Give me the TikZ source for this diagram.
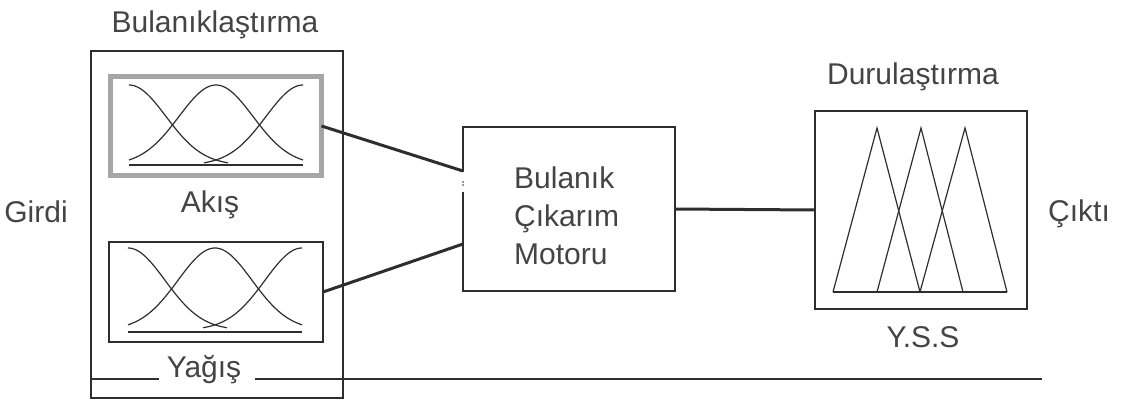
\documentclass[tikz,border=0pt]{standalone}
\usepackage{fontspec}
\setmainfont{Liberation Sans}
\usetikzlibrary{calc}
\definecolor{ink}{HTML}{2E2E2E}
\definecolor{txt}{HTML}{444444}
\definecolor{frame}{HTML}{A6A6A6}
\tikzset{
  box/.style={inner sep=0pt, outer sep=0pt, line width=1.5pt, draw=ink},
  lbl/.style={text=txt, inner sep=0pt, anchor=base, font=\fontsize{30}{36}\selectfont},
  wire/.style={draw=ink, line width=3pt},
  mf/.style={draw=ink, line width=1.2pt, smooth, samples=60},
  tri/.style={draw=ink, line width=1.2pt, line join=miter},
}
\begin{document}
\begin{tikzpicture}[x=1pt, y=-1pt]
\useasboundingbox (0,0) rectangle (1122,401);

% fuzzification block with its two input sets
\node[box, minimum width=252pt, minimum height=347pt] (fuz) at (217,224.5) {};
\node[box, draw=frame, line width=5pt, minimum width=211pt, minimum height=99pt] (fuzA) at (216,126) {};
\node[box, minimum width=214pt, minimum height=100pt] (fuzB) at (216,292) {};

% membership functions of the first input
\draw[mf, domain=129:228] plot (\x,{165-80*exp(-0.5*((\x-129)/37)^2)});
\draw[mf, domain=129:303] plot (\x,{165-80*exp(-0.5*((\x-216)/37)^2)});
\draw[mf, domain=204:303] plot (\x,{165-80*exp(-0.5*((\x-303)/37)^2)});
\draw[ink, line width=1.2pt] (129,165) -- (303,165);

% membership functions of the second input
\draw[mf, domain=128:227] plot (\x,{330-82*exp(-0.5*((\x-128)/37)^2)});
\draw[mf, domain=128:302] plot (\x,{330-82*exp(-0.5*((\x-215)/37)^2)});
\draw[mf, domain=203:302] plot (\x,{330-82*exp(-0.5*((\x-302)/37)^2)});
\draw[ink, line width=1.2pt] (128,332) -- (302,332);

% inference engine
\node[inner sep=0pt, outer sep=0pt, minimum width=212pt, minimum height=164pt] (engine) at (569,209) {};
\draw[ink, line width=2.5pt, line join=miter]
  ([yshift=17pt]engine.west) -- (engine.south west) -- (engine.south east)
  -- (engine.north east) -- (engine.north west) -- ([yshift=37pt]engine.west);
\fill[ink] ([yshift=27pt]engine.west) circle (0.9pt) ([yshift=24pt]engine.west) circle (0.9pt);
\node[lbl, anchor=base west] (l1) at (514,189) {Bulanık};
\node[lbl, anchor=base west] (l2) at (514,226) {Çıkarım};
\node[lbl, anchor=base west] (l3) at (514,264) {Motoru};

% defuzzification block
\node[box, line width=2pt, minimum width=212pt, minimum height=198pt] (defuz) at (921,210) {};
\draw[tri] (833,292) -- (877,128) -- (920,292);
\draw[tri] (877,292) -- (921,128) -- (963,292);
\draw[tri] (920,292) -- (965,128) -- (1007,292);
\draw[ink, line width=1.2pt] (833,292) -- (1007,292);

% connectors
\draw[wire] (fuzA.east) -- ([yshift=38pt]engine.west);
\draw[wire] (fuzB.east) -- ([yshift=-35pt]engine.west);
\draw[wire] (engine.east) -- (defuz.west);

% labels
\node[lbl] (tfuz) at (215,33) {Bulanıklaştırma};
\node[lbl] (tin) at (36,222) {Girdi};
\node[lbl] (tA) at (210,212) {Akış};
\node[lbl] (tB) at (204,377) {Yağış};
\node[lbl] (tdef) at (913,85) {Durulaştırma};
\node[lbl] (tyss) at (923,347) {Y.S.S};
\node[lbl] (tout) at (1079,221) {Çıktı};

% rule under the input block
\coordinate (r0) at (fuz.west |- 0,379);
\coordinate (r3) at (1042,379);
\draw[ink, line width=1.5pt] (r0) -- ([xshift=-8pt]tB.west |- r0);
\draw[ink, line width=1.5pt] ([xshift=14pt]tB.east |- r0) -- (r3);
\end{tikzpicture}
\end{document}
